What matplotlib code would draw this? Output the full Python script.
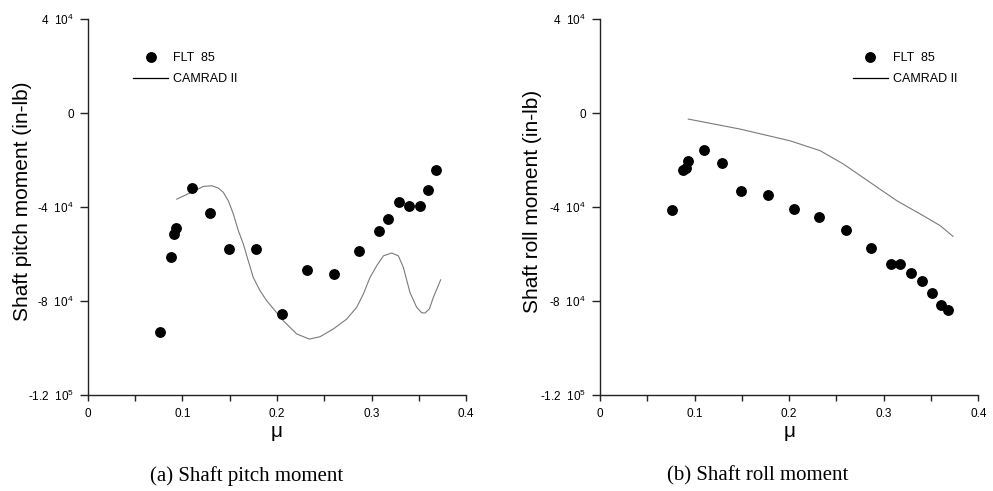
import matplotlib
matplotlib.use("Agg")
import matplotlib.pyplot as plt
from matplotlib.lines import Line2D
from matplotlib.ticker import FixedLocator, MultipleLocator

plt.rcParams["font.family"] = ["Liberation Sans", "DejaVu Sans"]
plt.rcParams["mathtext.fontset"] = "custom"
plt.rcParams["mathtext.rm"] = "Liberation Sans"
plt.rcParams["mathtext.it"] = "Liberation Sans:italic"
plt.rcParams["mathtext.bf"] = "Liberation Sans:bold"

# Advance ratio of the flight-test points
mu = [0.0762, 0.0880, 0.0913, 0.0931, 0.1104, 0.1291, 0.1492, 0.1781, 0.2051,
      0.2321, 0.2603, 0.2864, 0.3081, 0.3173, 0.3293, 0.3400, 0.3513, 0.3603,
      0.3683]

# Flight 85 measurements (in-lb)
flt_pitch = [-93000, -61200, -51600, -48900, -31900, -42500, -57800, -57800,
             -85600, -66600, -68400, -58800, -50000, -45200, -37700, -39400,
             -39400, -32500, -24100]
flt_roll = [-41200, -24100, -23500, -20400, -15500, -21400, -33000, -34900,
            -40600, -44100, -49700, -57400, -64200, -64200, -67800, -71300,
            -76400, -81600, -83700]

# CAMRAD II predictions
cam_pitch_mu = [0.0939, 0.1115, 0.1220, 0.1309, 0.1379, 0.1432, 0.1485, 0.1538,
                0.1591, 0.1644, 0.1696, 0.1749, 0.1820, 0.1891, 0.1979, 0.2067,
                0.2208, 0.2342, 0.2455, 0.2596, 0.2737, 0.2843, 0.2914, 0.2984,
                0.3055, 0.3126, 0.3213, 0.3284, 0.3337, 0.3407, 0.3478, 0.3531,
                0.3566, 0.3612, 0.3654, 0.3732]
cam_pitch = [-36600, -33300, -31200, -30900, -31900, -33700, -37300, -42900,
             -50000, -55700, -62800, -69900, -75500, -79800, -84000, -88300,
             -93900, -96100, -95100, -91800, -87600, -82600, -76900, -69900,
             -64900, -60700, -59500, -60700, -65600, -76300, -82600, -84900,
             -85000, -83300, -78400, -70900]
cam_roll_mu = [0.0934, 0.1481, 0.2011, 0.2328, 0.2575, 0.2857, 0.3140, 0.3421,
               0.3598, 0.3732]
cam_roll = [-2550, -6800, -11800, -16000, -21700, -29500, -37300, -43700,
            -47900, -52400]

y_ticks = [40000, 0, -40000, -80000, -120000]
y_tick_labels = [r"4  10$^{4}$", "0", r"-4  10$^{4}$", r"-8  10$^{4}$",
                 r"-1.2  10$^{5}$"]
x_ticks = [0, 0.1, 0.2, 0.3, 0.4]
x_tick_labels = ["0", "0.1", "0.2", "0.3", "0.4"]

panels = [
    ("Shaft pitch moment (in-lb)", flt_pitch, cam_pitch_mu, cam_pitch,
     "(a) Shaft pitch moment", 0.1198, -0.147),
    ("Shaft roll moment (in-lb)", flt_roll, cam_roll_mu, cam_roll,
     "(b) Shaft roll moment", 0.668, -0.153),
]

fig = plt.figure(figsize=(9.93, 4.91), dpi=100)
axes_rects = [[0.0886, 0.1949, 0.3807, 0.7664], [0.6042, 0.1949, 0.381, 0.7664]]
caption_x = [0.2484, 0.7633]

axis_color = "#222222"
for rect, (ylab, flt, cmu, cval, caption, leg_x, ylab_x), cx in zip(
        axes_rects, panels, caption_x):
    ax = fig.add_axes(rect)
    ax.plot(cmu, cval, color="#7a7a7a", lw=0.8, zorder=2)
    ax.plot(mu, flt, linestyle="none", marker="o", ms=6.8, color="black",
            zorder=3)

    ax.set_xlim(0, 0.4)
    ax.set_ylim(-120000, 40000)
    ax.xaxis.set_major_locator(FixedLocator(x_ticks))
    ax.set_xticklabels(x_tick_labels)
    ax.xaxis.set_minor_locator(MultipleLocator(0.05))
    ax.yaxis.set_major_locator(FixedLocator(y_ticks))
    ax.set_yticklabels(y_tick_labels)

    for side in ("top", "right"):
        ax.spines[side].set_visible(False)
    for side in ("left", "bottom"):
        ax.spines[side].set_color(axis_color)
        ax.spines[side].set_linewidth(1.0)
    ax.tick_params(axis="y", which="major", direction="out", length=6,
                   width=1.0, color=axis_color, labelsize=8.5, pad=4)
    ax.tick_params(axis="x", which="both", direction="out", length=4,
                   width=1.0, color=axis_color, labelsize=8.5, pad=5)

    ax.set_ylabel(ylab, fontsize=15)
    ax.yaxis.set_label_coords(ylab_x, 0.516)
    ax.set_xlabel("μ", fontsize=15)
    ax.xaxis.set_label_coords(0.5, -0.072)

    handles = [
        Line2D([], [], linestyle="none", marker="o", ms=6.8, color="black"),
        Line2D([], [], color="black", lw=0.9),
    ]
    ax.legend(handles, ["FLT  85", "CAMRAD II"], loc="upper left",
              bbox_to_anchor=(leg_x, 0.912), frameon=False, fontsize=9,
              handlelength=2.8, handletextpad=0.4, labelspacing=0.75,
              borderpad=0, borderaxespad=0)

    fig.text(cx, 0.0305, caption, ha="center", va="center", fontsize=15,
             family=["Liberation Serif", "DejaVu Serif"])

fig.savefig("out.png", dpi=100)
